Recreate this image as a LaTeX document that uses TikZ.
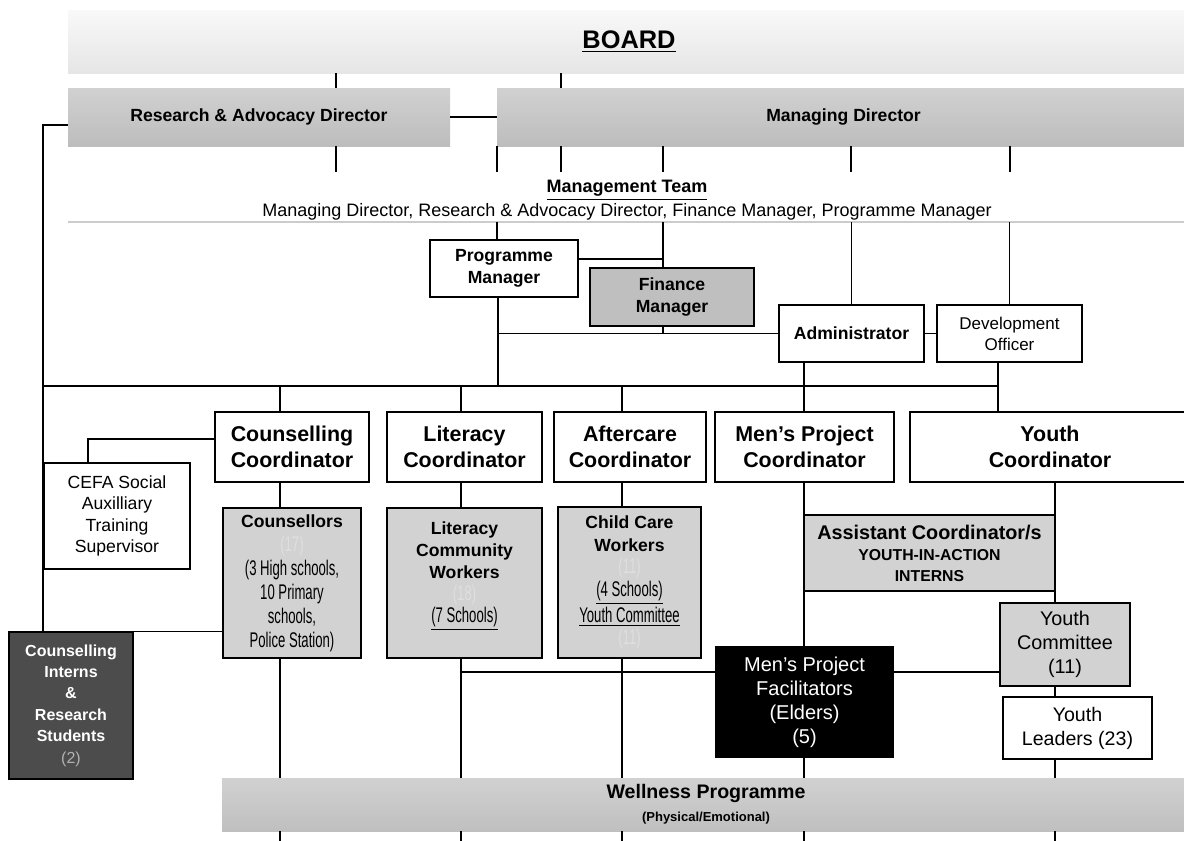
\documentclass[tikz,border=0pt]{standalone}
\usepackage{fontspec}
\setmainfont{Liberation Sans}
\newfontfamily\narrowfont[FakeStretch=0.62]{Liberation Sans}
\usetikzlibrary{calc}

\newcommand{\fs}[2]{\fontsize{#1}{#2}\selectfont}
\newcommand{\nar}[1]{{\narrowfont\mdseries\fs{10.6}{12}#1}}
\newcommand{\faint}[1]{{\narrowfont\mdseries\fs{10.6}{12}\color{gray!25}#1}}

\begin{document}
\begin{tikzpicture}[x=0.5pt, y=-0.5pt,
    box/.style={draw, line width=0.6pt, align=center, inner sep=1pt, fill=white},
    greybox/.style={box, fill=gray!35},
    bar/.style={align=center, inner sep=0pt},
    link/.style={line width=0.7pt}]
    \useasboundingbox (0,0) rectangle (1184,841);

    % Define nodes
    \node (board) at (629,41.5) [bar, minimum width=561pt, minimum height=31.5pt, top color=gray!5, bottom color=gray!20] {\fs{12.7}{15}\bfseries\underline{BOARD}};
    \node (rad) at (259,117) [bar, minimum width=191pt, minimum height=29pt, top color=gray!36, bottom color=gray!52] {\fs{8.8}{10}\bfseries Research \& Advocacy Director};
    \node (md) at (843.5,117) [bar, minimum width=346.5pt, minimum height=29pt, top color=gray!36, bottom color=gray!52] {\fs{8.8}{10}\bfseries Managing Director};
    \node (mt) at (627,190) {\fs{9}{11}\bfseries\underline{Management Team}};
    \node (mtlist) at (627,212) {\fs{9}{11}Managing Director, Research \& Advocacy Director, Finance Manager, Programme Manager};
    \coordinate (rl) at (68,222);
    \coordinate (rr) at (1184,222);

    \node (pm) at (504,268.5) [box, minimum width=74pt, minimum height=28.5pt, font=\fs{8.8}{11}\bfseries] {Programme\\Manager};
    \node (fm) at (672,297) [box, fill=gray!50, minimum width=82pt, minimum height=29pt, font=\fs{8.8}{11}\bfseries] {Finance\\Manager};
    \node (admin) at (851.5,333.5) [box, minimum width=72.5pt, minimum height=28.5pt, font=\fs{8.8}{11}\bfseries] {Administrator};
    \node (devo) at (1009.5,333.5) [box, minimum width=72.5pt, minimum height=28.5pt, font=\fs{8.5}{10.5}] {Development\\Officer};
    \coordinate (bus) at (43,386);

    \node (cc) at (292,447) [box, minimum width=77pt, minimum height=35pt, font=\fs{10.7}{13}\bfseries] {Counselling\\Coordinator};
    \node (lc) at (464.5,447) [box, minimum width=77.5pt, minimum height=35pt, font=\fs{10.7}{13}\bfseries] {Literacy\\Coordinator};
    \node (ac) at (630,447) [box, minimum width=76pt, minimum height=35pt, font=\fs{10.7}{13}\bfseries] {Aftercare\\Coordinator};
    \node (mpc) at (804.5,447) [box, minimum width=89.5pt, minimum height=35pt, font=\fs{10.7}{13}\bfseries] {Men’s Project\\Coordinator};
    \node (yc) at (1050,447) [box, minimum width=140pt, minimum height=35pt, font=\fs{10.7}{13}\bfseries] {Youth\\Coordinator};

    \node (cefa) at (117,516) [box, minimum width=73pt, minimum height=53pt, font=\fs{8.8}{10.7}] {CEFA Social\\Auxilliary\\Training\\Supervisor};
    \node (couns) at (292,583) [greybox, minimum width=69pt, minimum height=75pt, font=\fs{8.8}{12}\bfseries] {Counsellors\\\faint{(17)}\\\nar{(3 High schools,}\\\nar{10 Primary}\\\nar{schools,}\\\nar{Police Station)}};
    \node (lcw) at (464.5,583) [greybox, minimum width=77.5pt, minimum height=75pt, font=\fs{8.8}{10.9}\bfseries] {Literacy\\Community\\Workers\\\faint{(18)}\\\nar{\underline{(7 Schools)}}\\\mbox{}};
    \node (ccw) at (629.5,582.5) [greybox, minimum width=71.5pt, minimum height=75.5pt, font=\fs{8.8}{11.3}\bfseries] {Child Care\\Workers\\\faint{(11)}\\\nar{\underline{(4 Schools)}}\\\nar{\underline{Youth Committee}}\\\faint{(11)}};
    \node (asst) at (929.5,553) [greybox, minimum width=125.5pt, minimum height=38pt, font=\fs{7.9}{10.5}\bfseries] {{\fs{9.9}{10.5}Assistant Coordinator/s}\\YOUTH-IN-ACTION\\INTERNS};
    \node (ycom) at (1065,644.5) [greybox, minimum width=65pt, minimum height=41.5pt, font=\fs{9.9}{12}] {Youth\\Committee\\(11)};
    \node (yl) at (1077.5,728) [box, minimum width=74.5pt, minimum height=31pt, font=\fs{9.8}{12}] {Youth\\Leaders (23)};
    \node (mpf) at (804.5,702) [box, fill=black, text=white, minimum width=88.5pt, minimum height=55pt, font=\fs{10}{12}] {Men’s Project\\Facilitators\\(Elders)\\(5)};
    \node (interns) at (71,705.5) [box, fill=black!70, text=white, minimum width=62pt, minimum height=73.5pt, font=\fs{8}{10.7}\bfseries] {Counselling\\Interns\\\&\\Research\\Students\\{\mdseries\color{gray!60}(2)}};
    \node (well) at (706,804.5) [bar, minimum width=484pt, minimum height=26.5pt, top color=gray!36, bottom color=gray!50, font=\fs{9.8}{11.5}\bfseries] {Wellness Programme\\{\fs{6.5}{8}(Physical/Emotional)}};
    \coordinate (ring) at (461,672);

    % Draw links
    \draw[link] (board.south -| 336,0) -- (rad.north -| 336,0);
    \draw[link] (board.south -| 561,0) -- (md.north -| 561,0);
    \draw[link] (rad.east) -- (md.west);
    \draw[link] (rad.south -| 336,0) -- ++(0,26);
    \foreach \x in {497,561,663,851,1010}
        \draw[link] (md.south -| \x,0) -- ++(0,26);
    \draw[gray!40, line width=0.8pt] (rl) -- (rr);

    \draw[link] (rr -| 497,0) -- (pm.north -| 497,0);
    \draw[link] ($(pm.east)+(0,-9.5)$) -| (fm.north -| 663,0);
    \draw[link] (rr -| 663,0) -- (fm.north -| 663,0);
    \draw[link] (fm.south -| 663,0) -- (admin.west -| 663,0);
    \draw[link] (pm.south -| 498,0) -- (bus -| 498,0);
    \draw[link] (admin.west -| 498,0) -- (admin.west);
    \draw[link] (rr -| admin.north) -- (admin.north);
    \draw[link] (rr -| devo.north) -- (devo.north);
    \draw[link] (admin.east) -- (devo.west);

    \draw[link] ($(rad.west)+(0,8)$) -| (bus |- interns.north);
    \draw[link] (interns.north east) -- (couns.west |- interns.north east);
    \draw[link] (bus) -- (bus -| 998,0);
    \draw[link] (admin.south -| 804,0) -- (mpc.north -| 804,0);
    \draw[link] (devo.south -| 998,0) -- (yc.north -| 998,0);
    \draw[link] (bus -| 280,0) -- (cc.north -| 280,0);
    \draw[link] (bus -| 461,0) -- (lc.north -| 461,0);
    \draw[link] (bus -| 622,0) -- (ac.north -| 622,0);
    \draw[link] ($(cc.west)+(0,-8)$) -| (cefa.north -| 88,0);

    \draw[link] (cc.south -| 280,0) -- (couns.north -| 280,0);
    \draw[link] (lc.south -| 461,0) -- (lcw.north -| 461,0);
    \draw[link] (ac.south -| 622,0) -- (ccw.north -| 622,0);
    \draw[link] (mpc.south -| 804,0) -- (mpf.north -| 804,0);
    \draw[link] (yc.south -| 1055,0) -- (ycom.north -| 1055,0);
    \draw[link] (ycom.south -| 1055,0) -- (yl.north -| 1055,0);
    \draw[link] (ring) -- (ring -| mpf.west);
    \draw[link] (ring -| mpf.east) -- (ring -| ycom.west);

    \draw[link] (couns.south -| 280,0) -- (well.north -| 280,0);
    \draw[link] (lcw.south -| 461,0) -- (well.north -| 461,0);
    \draw[link] (ccw.south -| 622,0) -- (well.north -| 622,0);
    \draw[link] (mpf.south -| 804,0) -- (well.north -| 804,0);
    \draw[link] (yl.south -| 1055,0) -- (well.north -| 1055,0);
    \foreach \x in {280,461,622,804,1055}
        \draw[link] (well.south -| \x,0) -- ++(0,12);
\end{tikzpicture}
\end{document}
